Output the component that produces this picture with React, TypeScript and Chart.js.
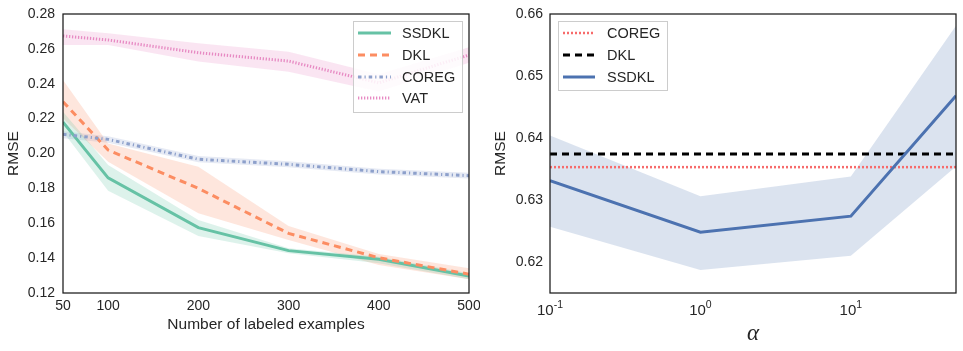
import React, { useEffect, useRef } from "react";
import { Chart, registerables } from "chart.js";

Chart.register(...registerables);

const FONT = "'Liberation Sans', Arial, sans-serif";
const TEXT = "#262626";

// Left panel data
const sizes = [50, 100, 200, 300, 400, 500];
const ssdklMean = [0.218, 0.186, 0.1575, 0.1443, 0.1393, 0.1298];
const ssdklUpper = [0.224, 0.1934, 0.1619, 0.1456, 0.1408, 0.1313];
const ssdklLower = [0.2125, 0.1787, 0.1527, 0.1428, 0.137, 0.1279];
const dklMean = [0.2297, 0.202, 0.18, 0.1542, 0.1402, 0.1308];
const dklUpper = [0.2422, 0.2058, 0.1924, 0.1584, 0.1424, 0.1342];
const dklLower = [0.2202, 0.1953, 0.1657, 0.1504, 0.136, 0.1279];
const coregMean = [0.211, 0.2081, 0.1967, 0.1938, 0.1896, 0.1873];
const coregUpper = [0.2128, 0.2099, 0.1985, 0.1955, 0.1913, 0.189];
const coregLower = [0.2088, 0.2062, 0.195, 0.1921, 0.1879, 0.1857];
const vatMean = [0.2674, 0.2651, 0.2578, 0.253, 0.2405, 0.2565];
const vatUpper = [0.2712, 0.2689, 0.2632, 0.2584, 0.2455, 0.261];
const vatLower = [0.2622, 0.2622, 0.2527, 0.2469, 0.2355, 0.252];
const leftYTicks = [0.12, 0.14, 0.16, 0.18, 0.2, 0.22, 0.24, 0.26, 0.28];

// Right panel data
const alphas = [0.1, 1, 10, 50];
const ssdklAlphaMean = [0.6331, 0.6248, 0.6274, 0.6468];
const ssdklAlphaUpper = [0.6404, 0.6306, 0.6338, 0.6581];
const ssdklAlphaLower = [0.6257, 0.6187, 0.621, 0.6354];
const dklBaseline = 0.6374;
const coregBaseline = 0.6353;
const rightYTicks = [0.62, 0.63, 0.64, 0.65, 0.66];
const rightXTicks = [0.1, 1, 10];
const rightXExps = ["-1", "0", "1"];

const pts = (xs: number[], ys: number[]) => xs.map((x, i) => ({ x, y: ys[i] }));

type LegendItem = { label: string; color: string; dash: number[]; width: number };

const framePlugin = {
  id: "frame",
  afterDatasetsDraw(chart: any) {
    const { ctx, chartArea: a } = chart;
    ctx.save();
    ctx.strokeStyle = "#1a1a1a";
    ctx.lineWidth = 1.25;
    ctx.strokeRect(a.left, a.top, a.right - a.left, a.bottom - a.top);
    ctx.restore();
  },
};

const makeLegendPlugin = (items: LegendItem[], box: { x: number; y: number; w: number; h: number }, rowY: number[], lineX: number[], textX: number) => ({
  id: "customLegend",
  afterDraw(chart: any) {
    const ctx = chart.ctx;
    ctx.save();
    ctx.fillStyle = "rgba(255,255,255,0.85)";
    ctx.fillRect(box.x, box.y, box.w, box.h);
    ctx.strokeStyle = "#cccccc";
    ctx.lineWidth = 1;
    ctx.strokeRect(box.x + 0.5, box.y + 0.5, box.w, box.h);
    items.forEach((it, i) => {
      ctx.beginPath();
      ctx.setLineDash(it.dash);
      ctx.strokeStyle = it.color;
      ctx.lineWidth = it.width;
      ctx.moveTo(lineX[0], rowY[i]);
      ctx.lineTo(lineX[1], rowY[i]);
      ctx.stroke();
      ctx.setLineDash([]);
      ctx.fillStyle = TEXT;
      ctx.font = `14.5px ${FONT}`;
      ctx.textBaseline = "middle";
      ctx.textAlign = "left";
      ctx.fillText(it.label, textX, rowY[i] + 1);
    });
    ctx.restore();
  },
});

const logTickPlugin = {
  id: "logTicks",
  afterDraw(chart: any) {
    const { ctx } = chart;
    const xs = chart.scales.x;
    const base = chart.chartArea.bottom + 22;
    ctx.save();
    ctx.fillStyle = TEXT;
    ctx.textBaseline = "alphabetic";
    rightXTicks.forEach((v, i) => {
      const px = xs.getPixelForValue(v);
      ctx.font = `15px ${FONT}`;
      const w1 = ctx.measureText("10").width;
      ctx.font = `10.5px ${FONT}`;
      const w2 = ctx.measureText(rightXExps[i]).width;
      const start = px - (w1 + w2) / 2;
      ctx.font = `15px ${FONT}`;
      ctx.textAlign = "left";
      ctx.fillText("10", start, base);
      ctx.font = `10.5px ${FONT}`;
      ctx.fillText(rightXExps[i], start + w1, base - 7);
    });
    ctx.restore();
  },
};

const tickFont = { family: FONT, size: 14 };

const fitX = (h: number) => (s: any) => {
  s.height = h;
  s.paddingLeft = 0;
  s.paddingRight = 0;
};
const fitY = (w: number) => (s: any) => {
  s.width = w;
  s.paddingTop = 0;
  s.paddingBottom = 0;
};

function buildLeft(canvas: HTMLCanvasElement) {
  const band = (up: number[], lo: number[], color: string) => [
    { data: pts(sizes, up), borderWidth: 0, pointRadius: 0, fill: "+1", backgroundColor: color, order: 20 },
    { data: pts(sizes, lo), borderWidth: 0, pointRadius: 0, fill: false, backgroundColor: color, order: 20 },
  ];
  const line = (ys: number[], color: string, dash: number[], width: number, order: number) => ({
    data: pts(sizes, ys),
    borderColor: color,
    borderWidth: width,
    borderDash: dash,
    pointRadius: 0,
    fill: false,
    tension: 0,
    order,
  });
  const legendItems: LegendItem[] = [
    { label: "SSDKL", color: "#66c2a5", dash: [], width: 3 },
    { label: "DKL", color: "#fc8d62", dash: [7, 5], width: 3 },
    { label: "COREG", color: "#8da0cb", dash: [3.5, 3, 1.2, 3], width: 3 },
    { label: "VAT", color: "#e78ac3", dash: [1.3, 1.7], width: 3 },
  ];
  return new Chart(canvas, {
    type: "line",
    data: {
      datasets: [
        ...band(ssdklUpper, ssdklLower, "rgba(102,194,165,0.22)"),
        ...band(dklUpper, dklLower, "rgba(252,141,98,0.22)"),
        ...band(coregUpper, coregLower, "rgba(141,160,203,0.22)"),
        ...band(vatUpper, vatLower, "rgba(231,138,195,0.22)"),
        line(ssdklMean, "#66c2a5", [], 3, 4),
        line(dklMean, "#fc8d62", [7, 5], 3, 3),
        line(coregMean, "#8da0cb", [3.5, 3, 1.2, 3], 3, 2),
        line(vatMean, "#e78ac3", [1.3, 1.7], 3, 1),
      ] as any,
    },
    options: {
      animation: false,
      responsive: false,
      events: [],
      layout: { padding: { left: 0, top: 14, right: 11, bottom: 0 } },
      plugins: {
        legend: { display: false },
        tooltip: { enabled: false },
        filler: { drawTime: "beforeDatasetsDraw" } as any,
      },
      scales: {
        x: {
          type: "linear",
          min: 50,
          max: 500,
          afterBuildTicks: (s: any) => {
            s.ticks = sizes.map((v) => ({ value: v }));
          },
          afterFit: fitX(58),
          grid: { display: false, drawTicks: false },
          border: { display: false },
          ticks: { padding: 5, color: TEXT, font: tickFont, maxRotation: 0, autoSkip: false, callback: (v: any) => String(v) },
          title: { display: true, text: "Number of labeled examples", color: TEXT, font: { family: FONT, size: 15.5 }, padding: { top: 0, bottom: 17 } },
        },
        y: {
          type: "linear",
          min: 0.12,
          max: 0.28,
          afterBuildTicks: (s: any) => {
            s.ticks = leftYTicks.map((v) => ({ value: v }));
          },
          afterFit: fitY(63),
          grid: { display: false, drawTicks: false },
          border: { display: false },
          ticks: { padding: 8, color: TEXT, font: tickFont, callback: (v: any) => Number(v).toFixed(2) },
          title: { display: true, text: "RMSE", color: TEXT, font: { family: FONT, size: 15.5 }, padding: { top: 4, bottom: 0 } },
        },
      },
    },
    plugins: [framePlugin, makeLegendPlugin(legendItems, { x: 353, y: 21, w: 109, h: 91 }, [33, 55, 77, 98], [358, 391], 402)],
  } as any);
}

function buildRight(canvas: HTMLCanvasElement) {
  const ends = [alphas[0], alphas[alphas.length - 1]];
  const legendItems: LegendItem[] = [
    { label: "COREG", color: "#f76b6b", dash: [2, 2], width: 2.5 },
    { label: "DKL", color: "#000000", dash: [7, 5], width: 3 },
    { label: "SSDKL", color: "#4c72b0", dash: [], width: 3 },
  ];
  return new Chart(canvas, {
    type: "line",
    data: {
      datasets: [
        { data: pts(alphas, ssdklAlphaUpper), borderWidth: 0, pointRadius: 0, fill: "+1", backgroundColor: "rgba(76,114,176,0.2)", order: 20 },
        { data: pts(alphas, ssdklAlphaLower), borderWidth: 0, pointRadius: 0, fill: false, order: 20 },
        { data: pts(ends, [coregBaseline, coregBaseline]), borderColor: "#f76b6b", borderWidth: 2.5, borderDash: [2, 2], pointRadius: 0, fill: false, order: 3 },
        { data: pts(ends, [dklBaseline, dklBaseline]), borderColor: "#000000", borderWidth: 3, borderDash: [7, 5], pointRadius: 0, fill: false, order: 2 },
        { data: pts(alphas, ssdklAlphaMean), borderColor: "#4c72b0", borderWidth: 3, pointRadius: 0, fill: false, order: 1 },
      ] as any,
    },
    options: {
      animation: false,
      responsive: false,
      events: [],
      layout: { padding: { left: 0, top: 14, right: 7, bottom: 0 } },
      plugins: {
        legend: { display: false },
        tooltip: { enabled: false },
        filler: { drawTime: "beforeDatasetsDraw" } as any,
      },
      scales: {
        x: {
          type: "logarithmic",
          min: 0.1,
          max: 50,
          afterFit: fitX(58),
          grid: { display: false, drawTicks: false },
          border: { display: false },
          ticks: { display: false },
          title: { display: true, text: "α", color: TEXT, font: { family: "'Liberation Serif', 'DejaVu Serif', serif", size: 23, style: "italic" }, padding: { top: 0, bottom: 3 } },
        },
        y: {
          type: "linear",
          min: 0.615,
          max: 0.66,
          afterBuildTicks: (s: any) => {
            s.ticks = rightYTicks.map((v) => ({ value: v }));
          },
          afterFit: fitY(70),
          grid: { display: false, drawTicks: false },
          border: { display: false },
          ticks: { padding: 7, color: TEXT, font: tickFont, callback: (v: any) => Number(v).toFixed(2) },
          title: { display: true, text: "RMSE", color: TEXT, font: { family: FONT, size: 15.5 }, padding: { top: 11, bottom: 0 } },
        },
      },
    },
    plugins: [framePlugin, logTickPlugin, makeLegendPlugin(legendItems, { x: 78, y: 21, w: 109, h: 69 }, [33, 55, 77], [83, 115], 127)],
  } as any);
}

export default function App() {
  const leftRef = useRef<HTMLCanvasElement>(null);
  const rightRef = useRef<HTMLCanvasElement>(null);
  useEffect(() => {
    const l = buildLeft(leftRef.current!);
    const r = buildRight(rightRef.current!);
    return () => {
      l.destroy();
      r.destroy();
    };
  }, []);
  return (
    <div style={{ position: "fixed", left: 0, top: 0, width: 963, height: 351, background: "#fff" }}>
      <canvas ref={leftRef} width={480} height={351} style={{ position: "absolute", left: 0, top: 0, width: 480, height: 351 }} />
      <canvas ref={rightRef} width={483} height={351} style={{ position: "absolute", left: 480, top: 0, width: 483, height: 351 }} />
    </div>
  );
}
